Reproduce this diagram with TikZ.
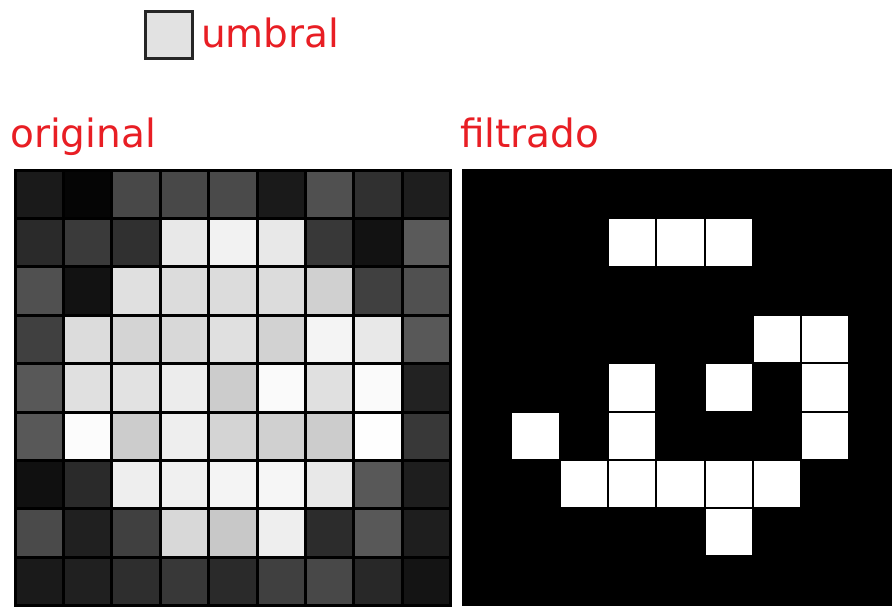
\documentclass[tikz,border=0pt]{standalone}
\usepackage{fontspec}
\setmainfont{DejaVu Sans}
\usetikzlibrary{positioning}

\definecolor{labelred}{RGB}{232,30,36}
% grey levels of the 9x9 image, row by row (0..255)
\newcommand{\imgrows}{%
  {26,5,72,72,74,26,80,48,30},
  {42,58,48,232,242,232,56,18,90},
  {80,18,224,220,220,220,208,64,80},
  {64,220,212,216,224,210,244,232,88},
  {88,224,226,236,204,250,224,250,34},
  {88,252,204,238,212,208,204,254,56},
  {16,42,238,240,244,246,232,88,30},
  {74,32,64,216,200,238,44,88,30},
  {26,32,46,56,42,64,72,40,20}}
\newcommand{\umbralval}{230}

\begin{document}
\begin{tikzpicture}[x=1pt, y=-1pt,
    lbl/.style={text=labelred, font=\fontsize{39}{44}\selectfont,
                inner sep=0pt, anchor=base west},
    swatch/.style={draw=black!85, line width=3pt, minimum size=47pt,
                   inner sep=0pt, fill={rgb,255:red,226;green,226;blue,226}},
    pixel/.style={draw=black, line width=3pt},
    binpixel/.style={draw=black, line width=2pt},
  ]
  \useasboundingbox (0,0) rectangle (892,606);

  % --- threshold legend ---
  \node[swatch] (swatch) at (169,35) {};
  \node[lbl] (umbral) at (201,47) {umbral};

  % --- titles ---
  \node[lbl] (original) at (10,147) {original};
  \node[lbl] (filtrado) at (460,147) {filtrado};

  % --- original image (left) ---
  \foreach \row [count=\r from 0] in \imgrows {
    \foreach \v [count=\c from 0] in \row {
      \filldraw[pixel, fill={rgb,255:red,\v;green,\v;blue,\v}]
        (15+\c*48.4, 170+\r*48.4) rectangle ++(48.4,48.4);
    }
  }

  % --- thresholded image (right) ---
  \foreach \row [count=\r from 0] in \imgrows {
    \foreach \v [count=\c from 0] in \row {
      \ifnum\v>\umbralval\relax \def\pixcol{white}\else\def\pixcol{black}\fi
      \filldraw[binpixel, fill=\pixcol]
        (463+\c*48.3, 170+\r*48.3) rectangle ++(48.3,48.3);
    }
  }
\end{tikzpicture}
\end{document}
